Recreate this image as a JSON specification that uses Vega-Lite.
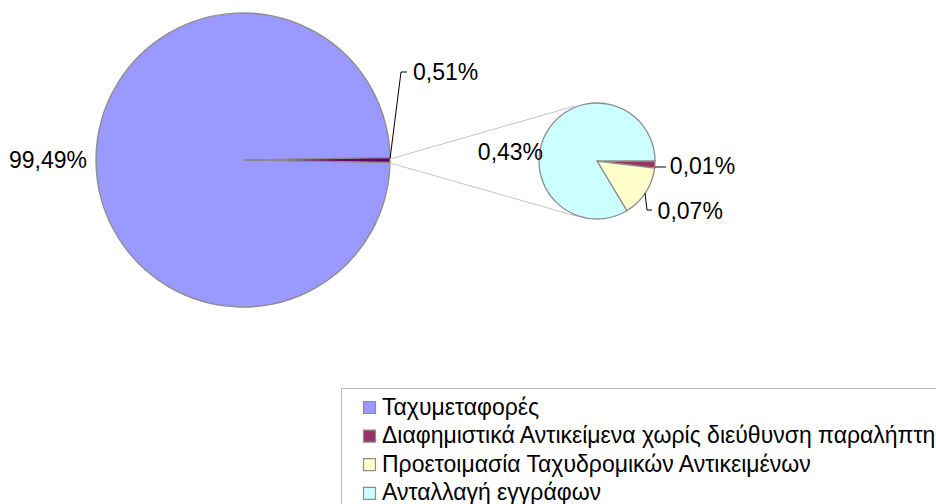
{
  "$schema": "https://vega.github.io/schema/vega-lite/v6.json",
  "width": 936,
  "height": 504,
  "autosize": {"type": "none"},
  "padding": 0,
  "background": "white",
  "config": {
    "view": {"stroke": null},
    "font": "Liberation Sans",
    "locale": {"number": {"decimal": ",", "thousands": ".", "grouping": [3], "currency": ["", " €"]}},
    "legend": {
      "orient": "none",
      "legendX": 341,
      "legendY": 388,
      "padding": 8,
      "strokeColor": "#b8b8b8",
      "fillColor": "white",
      "labelFont": "Liberation Sans",
      "labelFontSize": 23,
      "labelColor": "black",
      "labelLimit": 3000,
      "labelOffset": 1,
      "symbolOffset": 9,
      "symbolType": "square",
      "symbolSize": 144,
      "symbolStrokeColor": "#8c8c8c",
      "symbolStrokeWidth": 1.2,
      "symbolOpacity": 1,
      "rowPadding": 4.6
    }
  },
  "datasets": {
    "slices": [
      {"pie": "main", "category": "Ταχυμεταφορές", "value": 0.9949, "order": 2},
      {"pie": "main", "category": "Λοιπά", "value": 0.0051, "order": 1},
      {"pie": "detail", "category": "Διαφημιστικά Αντικείμενα χωρίς διεύθυνση παραλήπτη", "value": 0.0001, "order": 1},
      {"pie": "detail", "category": "Προετοιμασία Ταχυδρομικών Αντικειμένων", "value": 0.00074, "order": 2},
      {"pie": "detail", "category": "Ανταλλαγή εγγράφων", "value": 0.00428, "order": 3}
    ]
  },
  "data": {"name": "slices"},
  "encoding": {
    "x": {"field": "pie", "type": "nominal", "scale": {"type": "point", "domain": ["main", "detail"], "range": [243, 597], "padding": 0}, "axis": null},
    "y": {"field": "pie", "type": "nominal", "scale": {"type": "point", "domain": ["main", "detail"], "range": [160, 161], "padding": 0}, "axis": null}
  },
  "layer": [
    {
      "transform": [{"filter": "datum.pie === 'main'"}],
      "encoding": {
        "theta": {"field": "value", "type": "quantitative", "stack": true, "scale": {"range": [1.5548, 7.838]}},
        "order": {"field": "order", "type": "quantitative"}
      },
      "layer": [
        {
          "mark": {"type": "arc", "outerRadius": 147, "stroke": "#8c8c8c", "strokeWidth": 1.3},
          "encoding": {
            "color": {
              "field": "category", "type": "nominal",
              "scale": {
                "domain": ["Ταχυμεταφορές", "Διαφημιστικά Αντικείμενα χωρίς διεύθυνση παραλήπτη", "Προετοιμασία Ταχυδρομικών Αντικειμένων", "Ανταλλαγή εγγράφων", "Λοιπά"],
                "range": ["#9999FF", "#993366", "#FFFFCC", "#CCFFFF", "#660066"]
              },
              "legend": {"title": null, "symbolType": "square", "values": ["Ταχυμεταφορές", "Διαφημιστικά Αντικείμενα χωρίς διεύθυνση παραλήπτη", "Προετοιμασία Ταχυδρομικών Αντικειμένων", "Ανταλλαγή εγγράφων"]}
            }
          }
        },
        {
          "mark": {"type": "text", "radius": 156, "align": "right", "baseline": "middle", "dy": 1, "fontSize": 23, "color": "black"},
          "encoding": {
            "detail": {"field": "category"},
            "text": {"condition": {"test": "datum.category === 'Ταχυμεταφορές'", "field": "value", "type": "quantitative", "format": ".2%"}, "value": ""}
          }
        },
        {
          "mark": {"type": "text", "radius": 147, "align": "left", "baseline": "middle", "dx": 23, "dy": -87, "fontSize": 23, "color": "black"},
          "encoding": {
            "detail": {"field": "category"},
            "text": {"condition": {"test": "datum.category === 'Λοιπά'", "field": "value", "type": "quantitative", "format": ".2%"}, "value": ""}
          }
        },
        {
          "transform": [{"filter": "datum.category === 'Λοιπά'"}],
          "mark": {"type": "rule", "color": "black", "strokeWidth": 1, "xOffset": 147, "yOffset": -1, "x2Offset": 158, "y2Offset": -88},
          "encoding": {"x2": {"datum": "main"}, "y2": {"datum": "main"}, "theta": null, "order": null}
        },
        {
          "transform": [{"filter": "datum.category === 'Λοιπά'"}],
          "mark": {"type": "rule", "color": "black", "strokeWidth": 1, "xOffset": 158, "yOffset": -88, "x2Offset": 164, "y2Offset": -88},
          "encoding": {"x2": {"datum": "main"}, "y2": {"datum": "main"}, "theta": null, "order": null}
        },
        {
          "transform": [{"filter": "datum.category === 'Λοιπά'"}],
          "mark": {"type": "rule", "color": "#c4c4c4", "strokeWidth": 1, "xOffset": 147, "yOffset": -1, "x2Offset": -22, "y2Offset": -55},
          "encoding": {"x2": {"datum": "detail"}, "y2": {"datum": "detail"}, "theta": null, "order": null}
        },
        {
          "transform": [{"filter": "datum.category === 'Λοιπά'"}],
          "mark": {"type": "rule", "color": "#c4c4c4", "strokeWidth": 1, "xOffset": 147, "yOffset": 3, "x2Offset": -21, "y2Offset": 55},
          "encoding": {"x2": {"datum": "detail"}, "y2": {"datum": "detail"}, "theta": null, "order": null}
        }
      ]
    },
    {
      "transform": [{"filter": "datum.pie === 'detail'"}],
      "encoding": {
        "theta": {"field": "value", "type": "quantitative", "stack": true, "scale": {"range": [1.5708, 7.854]}},
        "order": {"field": "order", "type": "quantitative"}
      },
      "layer": [
        {
          "mark": {"type": "arc", "outerRadius": 58, "stroke": "#8c8c8c", "strokeWidth": 1.3},
          "encoding": {
            "color": {
              "field": "category", "type": "nominal",
              "scale": {
                "domain": ["Ταχυμεταφορές", "Διαφημιστικά Αντικείμενα χωρίς διεύθυνση παραλήπτη", "Προετοιμασία Ταχυδρομικών Αντικειμένων", "Ανταλλαγή εγγράφων", "Λοιπά"],
                "range": ["#9999FF", "#993366", "#FFFFCC", "#CCFFFF", "#660066"]
              }
            }
          }
        },
        {
          "mark": {"type": "text", "radius": 62, "align": "right", "baseline": "middle", "dy": 23, "fontSize": 23, "color": "black"},
          "encoding": {
            "detail": {"field": "category"},
            "text": {"condition": {"test": "datum.category === 'Ανταλλαγή εγγράφων'", "field": "value", "type": "quantitative", "format": ".2%"}, "value": ""}
          }
        },
        {
          "mark": {"type": "text", "radius": 73, "align": "left", "baseline": "middle", "dy": 2, "fontSize": 23, "color": "black"},
          "encoding": {
            "detail": {"field": "category"},
            "text": {"condition": {"test": "datum.category === 'Διαφημιστικά Αντικείμενα χωρίς διεύθυνση παραλήπτη'", "field": "value", "type": "quantitative", "format": ".2%"}, "value": ""}
          }
        },
        {
          "mark": {"type": "text", "radius": 58, "align": "left", "baseline": "middle", "dx": 12, "dy": 19, "fontSize": 23, "color": "black"},
          "encoding": {
            "detail": {"field": "category"},
            "text": {"condition": {"test": "datum.category === 'Προετοιμασία Ταχυδρομικών Αντικειμένων'", "field": "value", "type": "quantitative", "format": ".2%"}, "value": ""}
          }
        },
        {
          "transform": [{"filter": "datum.category === 'Διαφημιστικά Αντικείμενα χωρίς διεύθυνση παραλήπτη'"}],
          "mark": {"type": "rule", "color": "black", "strokeWidth": 1, "xOffset": 58, "yOffset": 6, "x2Offset": 69, "y2Offset": 6},
          "encoding": {"x2": {"datum": "detail"}, "y2": {"datum": "detail"}, "theta": null, "order": null}
        },
        {
          "transform": [{"filter": "datum.category === 'Προετοιμασία Ταχυδρομικών Αντικειμένων'"}],
          "mark": {"type": "rule", "color": "black", "strokeWidth": 1, "xOffset": 48, "yOffset": 32, "x2Offset": 50, "y2Offset": 49},
          "encoding": {"x2": {"datum": "detail"}, "y2": {"datum": "detail"}, "theta": null, "order": null}
        },
        {
          "transform": [{"filter": "datum.category === 'Προετοιμασία Ταχυδρομικών Αντικειμένων'"}],
          "mark": {"type": "rule", "color": "black", "strokeWidth": 1, "xOffset": 50, "yOffset": 49, "x2Offset": 55, "y2Offset": 49},
          "encoding": {"x2": {"datum": "detail"}, "y2": {"datum": "detail"}, "theta": null, "order": null}
        }
      ]
    }
  ],
  "resolve": {"scale": {"theta": "independent"}}
}
